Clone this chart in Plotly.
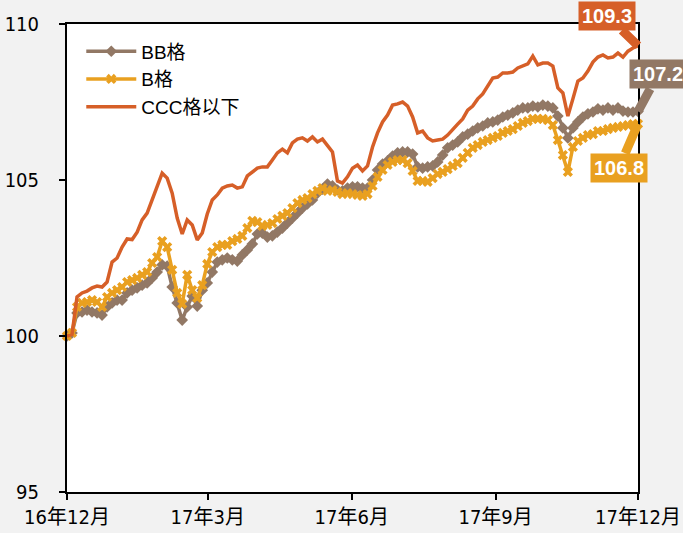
import pandas as pd
import plotly.graph_objects as go

# ---- data ----
start_date = "2016-12-01"
end_date = "2017-12-01"
n_points = 115

bb_values = [
    100.00, 100.10, 100.74, 100.77, 100.83, 100.77, 100.74, 100.67, 100.93, 101.06,
    101.15, 101.15, 101.38, 101.47, 101.54, 101.63, 101.70, 101.86, 102.05, 102.28,
    102.24, 101.57, 101.06, 100.51, 100.93, 101.28, 100.96, 101.47, 101.70, 102.05,
    102.37, 102.44, 102.50, 102.44, 102.40, 102.60, 102.76, 102.95, 103.27, 103.30,
    103.17, 103.21, 103.33, 103.46, 103.62, 103.78, 103.94, 104.10, 104.23, 104.36,
    104.58, 104.71, 104.87, 104.81, 104.68, 104.65, 104.74, 104.78, 104.78, 104.74,
    104.74, 105.00, 105.32, 105.51, 105.61, 105.77, 105.87, 105.90, 105.90, 105.83,
    105.42, 105.38, 105.42, 105.45, 105.58, 105.80, 106.03, 106.12, 106.22, 106.38,
    106.47, 106.57, 106.67, 106.73, 106.83, 106.86, 106.92, 107.02, 107.08, 107.15,
    107.24, 107.31, 107.31, 107.37, 107.34, 107.40, 107.37, 107.31, 107.05, 106.67,
    106.35, 106.67, 106.86, 107.02, 107.12, 107.18, 107.28, 107.24, 107.31, 107.24,
    107.31, 107.21, 107.18, 107.18, 107.20,
]

b_values = [
    100.00, 100.10, 100.93, 101.06, 101.09, 101.15, 101.09, 100.93, 101.25, 101.38,
    101.47, 101.57, 101.73, 101.79, 101.86, 101.96, 102.05, 102.34, 102.53, 103.04,
    102.85, 102.12, 101.38, 101.03, 101.96, 101.47, 101.22, 101.63, 102.31, 102.69,
    102.85, 102.92, 102.92, 103.04, 103.11, 103.21, 103.46, 103.69, 103.65, 103.53,
    103.56, 103.62, 103.75, 103.85, 103.94, 104.10, 104.26, 104.36, 104.42, 104.55,
    104.65, 104.74, 104.65, 104.68, 104.62, 104.55, 104.58, 104.55, 104.52, 104.49,
    104.55, 104.81, 105.10, 105.32, 105.48, 105.58, 105.64, 105.64, 105.54, 105.29,
    104.97, 104.97, 104.94, 105.06, 105.19, 105.26, 105.35, 105.45, 105.54, 105.71,
    105.87, 106.03, 106.12, 106.22, 106.28, 106.35, 106.41, 106.51, 106.57, 106.63,
    106.73, 106.83, 106.89, 106.96, 106.96, 106.96, 106.92, 106.76, 106.28, 105.80,
    105.26, 106.06, 106.25, 106.35, 106.44, 106.47, 106.57, 106.57, 106.63, 106.67,
    106.70, 106.73, 106.76, 106.79, 106.80,
]

ccc_values = [
    100.00, 100.05, 101.25, 101.38, 101.44, 101.54, 101.60, 101.57, 101.73, 102.37,
    102.50, 102.85, 103.11, 103.09, 103.33, 103.72, 103.94, 104.36, 104.78, 105.22,
    105.06, 104.58, 103.78, 103.27, 103.72, 103.56, 103.08, 103.30, 103.91, 104.36,
    104.52, 104.74, 104.81, 104.84, 104.74, 104.78, 105.13, 105.26, 105.38, 105.42,
    105.42, 105.64, 105.87, 105.99, 105.87, 106.19, 106.31, 106.35, 106.25, 106.38,
    106.22, 106.31, 106.12, 105.90, 104.97, 104.90, 105.10, 105.38, 105.48, 105.29,
    105.45, 106.06, 106.51, 106.86, 107.08, 107.40, 107.44, 107.50, 107.37, 107.02,
    106.51, 106.57, 106.35, 106.25, 106.28, 106.31, 106.44, 106.63, 106.79, 106.96,
    107.24, 107.37, 107.60, 107.76, 108.01, 108.27, 108.30, 108.43, 108.43, 108.46,
    108.59, 108.65, 108.72, 108.97, 108.69, 108.75, 108.75, 108.65, 107.95, 107.79,
    107.05, 107.60, 108.17, 108.27, 108.49, 108.78, 108.94, 109.01, 108.91, 108.94,
    109.07, 108.94, 109.13, 109.23, 109.30,
]

series_names = ["BB格", "B格", "CCC格以下"]
end_labels = ["107.2", "106.8", "109.3"]

tick_dates = ["2016-12-01", "2017-03-01", "2017-06-01", "2017-09-01", "2017-12-01"]
tick_labels = ["16年12月", "17年3月", "17年6月", "17年9月", "17年12月"]
y_ticks = [95, 100, 105, 110]

dates = pd.date_range(start_date, end_date, periods=n_points)

# ---- styles ----
c_bb = "#927865"
c_b = "#e9a020"
c_ccc = "#d65f28"
bg = "#f2f2f2"
narrow = "DejaVu Sans Condensed, Liberation Sans Narrow, Noto Sans CJK SC, sans-serif"
regular = "Liberation Sans, Arial, Noto Sans CJK SC, sans-serif"

fig = go.Figure()
fig.add_trace(go.Scatter(
    x=dates, y=bb_values, name=series_names[0], mode="lines+markers",
    line=dict(color=c_bb, width=3.5),
    marker=dict(symbol="diamond", size=9, color=c_bb),
    cliponaxis=False,
))
fig.add_trace(go.Scatter(
    x=dates, y=b_values, name=series_names[1], mode="lines+markers",
    line=dict(color=c_b, width=3.5),
    marker=dict(symbol="x", size=9, color=c_b),
    cliponaxis=False,
))
fig.add_trace(go.Scatter(
    x=dates, y=ccc_values, name=series_names[2], mode="lines",
    line=dict(color=c_ccc, width=3.5),
    cliponaxis=False,
))

# end-value callouts
callouts = [
    (bb_values[-1], end_labels[0], c_bb, 20, -37),
    (b_values[-1], end_labels[1], c_b, -19, 44),
    (ccc_values[-1], end_labels[2], c_ccc, -31, -30),
]
for val, txt, col, ax, ay in callouts:
    fig.add_annotation(
        x=dates[-1], y=val, text="<b>%s</b>" % txt,
        showarrow=True, arrowhead=0, arrowwidth=9, arrowcolor=col,
        ax=ax, ay=ay, standoff=0,
        bgcolor=col, borderpad=3,
        font=dict(family=regular, size=20, color="white"),
    )

fig.update_layout(
    width=683, height=533,
    margin=dict(l=67, r=45, t=24, b=41, autoexpand=False),
    paper_bgcolor=bg,
    plot_bgcolor="white",
    showlegend=True,
    legend=dict(
        x=0.025, y=0.982, xanchor="left", yanchor="top",
        bgcolor="rgba(0,0,0,0)",
        font=dict(family=regular, size=19, color="black"),
        tracegroupgap=0, itemwidth=50,
    ),
    xaxis=dict(
        range=[start_date, end_date], automargin=False,
        tickvals=tick_dates, ticktext=tick_labels,
        ticks="outside", ticklen=6, tickwidth=1.5, tickcolor="black",
        showline=True, linecolor="black", linewidth=2, mirror=True,
        showgrid=False, zeroline=False,
        tickfont=dict(family=narrow, size=20, color="black"),
    ),
    yaxis=dict(
        range=[95, 110], tickvals=y_ticks, automargin=False,
        ticks="outside", ticklen=6, tickwidth=1.5, tickcolor="black",
        ticklabelstandoff=16,
        showline=True, linecolor="black", linewidth=2, mirror=True,
        showgrid=False, zeroline=False,
        tickfont=dict(family=narrow, size=20, color="black"),
    ),
)

fig.write_html(
    "out.html",
    config={"displayModeBar": False},
    post_script="document.body.style.margin='0px';"
                "document.body.style.background='%s';" % bg,
)
